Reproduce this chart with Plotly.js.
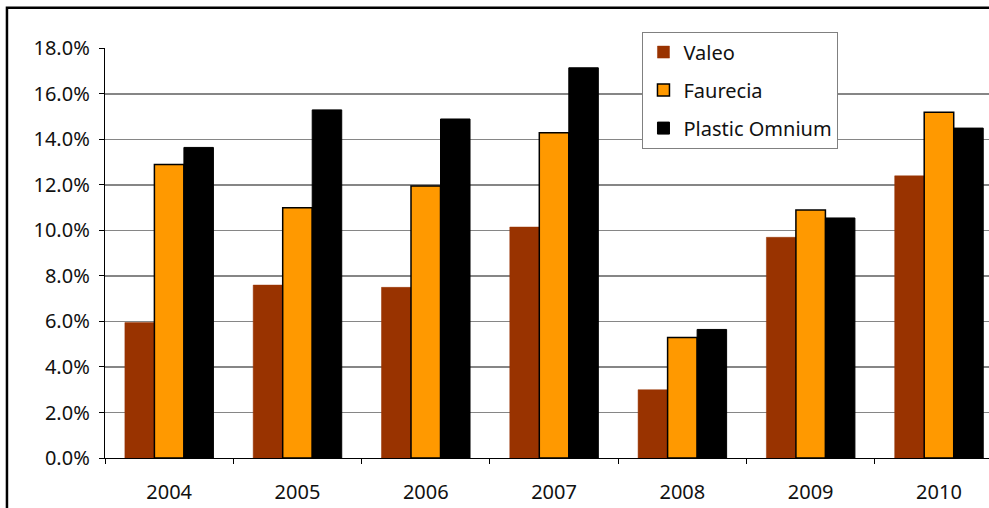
<!DOCTYPE html>
<html>
<head>
<meta charset="utf-8">
<script src="https://cdn.plot.ly/plotly-3.0.1.min.js"></script>
<style>
  html, body { margin: 0; padding: 0; background: #fff; }
  #chart { width: 989px; height: 508px; }
</style>
</head>
<body>
<div id="chart"></div>
<script>
const years = ["2004", "2005", "2006", "2007", "2008", "2009", "2010"];
const valeo = [5.95, 7.6, 7.5, 10.15, 3.0, 9.7, 12.4];
const faurecia = [12.9, 11.0, 11.95, 14.3, 5.3, 10.9, 15.2];
const plasticOmnium = [13.65, 15.3, 14.9, 17.15, 5.65, 10.55, 14.5];
const seriesNames = ["Valeo", "Faurecia", "Plastic Omnium"];
const yTicks = [0, 2, 4, 6, 8, 10, 12, 14, 16, 18];
const yTickLabels = yTicks.map(v => v.toFixed(1) + '%');

const FONT = '"Noto Sans", "DejaVu Sans", sans-serif';

const traces = [
  {
    type: 'bar', name: seriesNames[0], x: years, y: valeo, legendgroup: 'a',
    marker: { color: '#993300', line: { color: '#993300', width: 0.5 } }
  },
  {
    type: 'bar', name: seriesNames[1], x: years, y: faurecia, legendgroup: 'b',
    marker: { color: '#FF9900', line: { color: '#000000', width: 1.5 } }
  },
  {
    type: 'bar', name: seriesNames[2], x: years, y: plasticOmnium, legendgroup: 'c',
    marker: { color: '#000000', line: { color: '#000000', width: 1 } }
  }
];

const layout = {
  width: 989, height: 508,
  margin: { l: 105, r: 0, t: 48, b: 50, pad: 0 },
  paper_bgcolor: '#ffffff', plot_bgcolor: '#ffffff',
  font: { family: FONT, size: 20, color: '#111111' },
  barmode: 'group',
  bargap: 0.31, bargroupgap: 0,
  showlegend: true,
  legend: {
    x: 0.608, y: 1.04, xanchor: 'left', yanchor: 'top',
    bgcolor: '#ffffff', bordercolor: '#808080', borderwidth: 1,
    font: { family: FONT, size: 20, color: '#111111' },
    tracegroupgap: 9, traceorder: 'grouped'
  },
  xaxis: {
    type: 'category',
    range: [-0.5, 6.39],
    tickson: 'boundaries',
    ticks: 'outside', ticklen: 5, tickcolor: '#000', tickwidth: 1,
    showline: true, linecolor: '#000', linewidth: 1.2,
    showgrid: false, zeroline: false,
    tickfont: { family: FONT, size: 20, color: '#111111' },
    ticklabelstandoff: 16
  },
  yaxis: {
    range: [0, 18.02],
    tickmode: 'array',
    tickvals: yTicks,
    ticktext: yTickLabels,
    ticks: 'outside', ticklen: 5, tickcolor: '#000', tickwidth: 1,
    showline: true, linecolor: '#000', linewidth: 1.2,
    showgrid: true, gridcolor: '#868686', gridwidth: 1.3,
    zeroline: false,
    tickfont: { family: FONT, size: 20, color: '#111111' },
    ticklabelstandoff: 5
  },
  shapes: [
    {
      type: 'rect', xref: 'paper', yref: 'paper',
      x0: -0.1109, x1: 1.1, y0: -0.3, y1: 1.098,
      line: { color: '#000000', width: 2.5 }, fillcolor: 'rgba(0,0,0,0)'
    }
  ]
};

Plotly.newPlot('chart', traces, layout, { displayModeBar: false, staticPlot: true });
</script>
</body>
</html>
